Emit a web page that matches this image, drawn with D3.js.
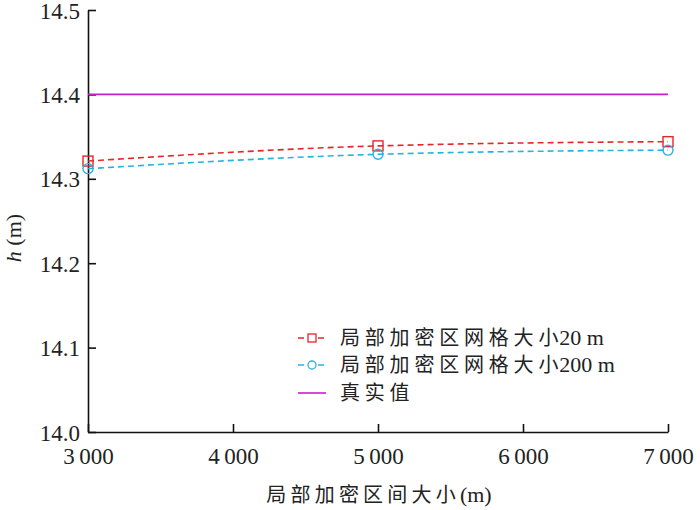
<!DOCTYPE html>
<html><head><meta charset="utf-8">
<script src="https://cdn.jsdelivr.net/npm/d3@7"></script>
<style>
body{margin:0;background:#fff;}
svg text{font-family:"Liberation Serif","Times New Roman","DejaVu Serif","Noto Sans CJK SC",serif !important;fill:#222;}
</style></head>
<body>
<svg id="c" width="700" height="510"></svg>
<script>
const xValues = [3000, 5000, 7000];
const series20 = [14.321, 14.339, 14.344];
const series200 = [14.312, 14.329, 14.334];
const trueValue = 14.4;
const xTicks = [3000, 4000, 5000, 6000, 7000];
const yTicks = [14.0, 14.1, 14.2, 14.3, 14.4, 14.5];
const legendCJK = ["局部加密区网格大小", "局部加密区网格大小", "真实值"];
const legendUnit = ["20 m", "200 m", ""];
const xTitleCJK = "局部加密区间大小";
const xTitleUnit = "(m)";

const svg = d3.select("#c");
const x = d3.scaleLinear().domain([3000, 7000]).range([88, 668]);
const y = d3.scaleLinear().domain([14.0, 14.5]).range([432, 10]);

const fmtX = d => { const s = String(d); return s[0] + "\u2009" + s.slice(1); };

const xa = svg.append("g").attr("transform", "translate(0,432)")
  .call(d3.axisBottom(x).tickValues(xTicks).tickSizeInner(-8).tickSizeOuter(0).tickPadding(12).tickFormat(fmtX));
const ya = svg.append("g").attr("transform", "translate(88,0)")
  .call(d3.axisLeft(y).tickValues(yTicks).tickSizeInner(-8).tickSizeOuter(0).tickPadding(8).tickFormat(d3.format(".1f")));
[xa, ya].forEach(a => {
  a.attr("font-family", null);
  a.select(".domain").attr("stroke", "#111").attr("stroke-width", 1.6);
  a.selectAll(".tick line").attr("stroke", "#111").attr("stroke-width", 1.6);
  a.selectAll(".tick text").attr("font-size", 23).attr("fill", "#222")
    .style("font-family", '"Liberation Serif","Times New Roman",serif');
});
xa.selectAll(".tick text").attr("dy", "0.85em");
ya.selectAll(".tick text").attr("dy", "0.35em");

const line = d3.line().x((d, i) => x(xValues[i])).y(d => y(d)).curve(d3.curveMonotoneX);

const red = "#e8262a", blue = "#27b3e3", mag = "#c81ec8";

svg.append("line").attr("x1", x(3000)).attr("x2", x(7000))
  .attr("y1", y(trueValue)).attr("y2", y(trueValue))
  .attr("stroke", mag).attr("stroke-width", 1.6);

svg.append("path").datum(series20).attr("d", line).attr("fill", "none")
  .attr("stroke", red).attr("stroke-width", 1.6).attr("stroke-dasharray", "6,4");
svg.append("path").datum(series200).attr("d", line).attr("fill", "none")
  .attr("stroke", blue).attr("stroke-width", 1.6).attr("stroke-dasharray", "6,4");

svg.selectAll(".sq").data(series20).enter().append("rect")
  .attr("x", (d, i) => x(xValues[i]) - 5).attr("y", d => y(d) - 5)
  .attr("width", 10).attr("height", 10).attr("fill", "none")
  .attr("stroke", red).attr("stroke-width", 1.4);
svg.selectAll(".ci").data(series200).enter().append("circle")
  .attr("cx", (d, i) => x(xValues[i])).attr("cy", d => y(d)).attr("r", 5)
  .attr("fill", "none").attr("stroke", blue).attr("stroke-width", 1.4);

// legend
const lg = svg.append("g");
const rows = [338, 365, 393];
const cols = [red, blue, mag];
rows.forEach((ry, i) => {
  if (i < 2) {
    lg.append("line").attr("x1", 298).attr("x2", 326).attr("y1", ry).attr("y2", ry)
      .attr("stroke", cols[i]).attr("stroke-width", 1.6).attr("stroke-dasharray", "6,4");
    if (i === 0) lg.append("rect").attr("x", 308).attr("y", ry - 4).attr("width", 8).attr("height", 8)
      .attr("fill", "#fff").attr("stroke", red).attr("stroke-width", 1.3);
    else lg.append("circle").attr("cx", 312).attr("cy", ry).attr("r", 4)
      .attr("fill", "#fff").attr("stroke", blue).attr("stroke-width", 1.3);
  } else {
    lg.append("line").attr("x1", 298).attr("x2", 326).attr("y1", ry).attr("y2", ry)
      .attr("stroke", mag).attr("stroke-width", 1.6);
  }
  const t = lg.append("text").attr("x", 340).attr("y", ry + 7).attr("font-size", 20);
  t.append("tspan").attr("letter-spacing", 4.8).text(legendCJK[i]);
  if (legendUnit[i]) t.append("tspan").attr("dx", -4).attr("font-size", 22).text(legendUnit[i]);
});

const xt = svg.append("text").attr("x", 379).attr("y", 502).attr("text-anchor", "middle")
  .attr("font-size", 20);
xt.append("tspan").attr("letter-spacing", 4.2).text(xTitleCJK);
xt.append("tspan").attr("font-size", 22).text(xTitleUnit);

const yl = svg.append("text").attr("transform", "translate(21,238) rotate(-90)")
  .attr("text-anchor", "middle").attr("font-size", 22);
yl.append("tspan").attr("font-style", "italic").text("h");
yl.append("tspan").text(" (m)");
</script>
</body></html>
